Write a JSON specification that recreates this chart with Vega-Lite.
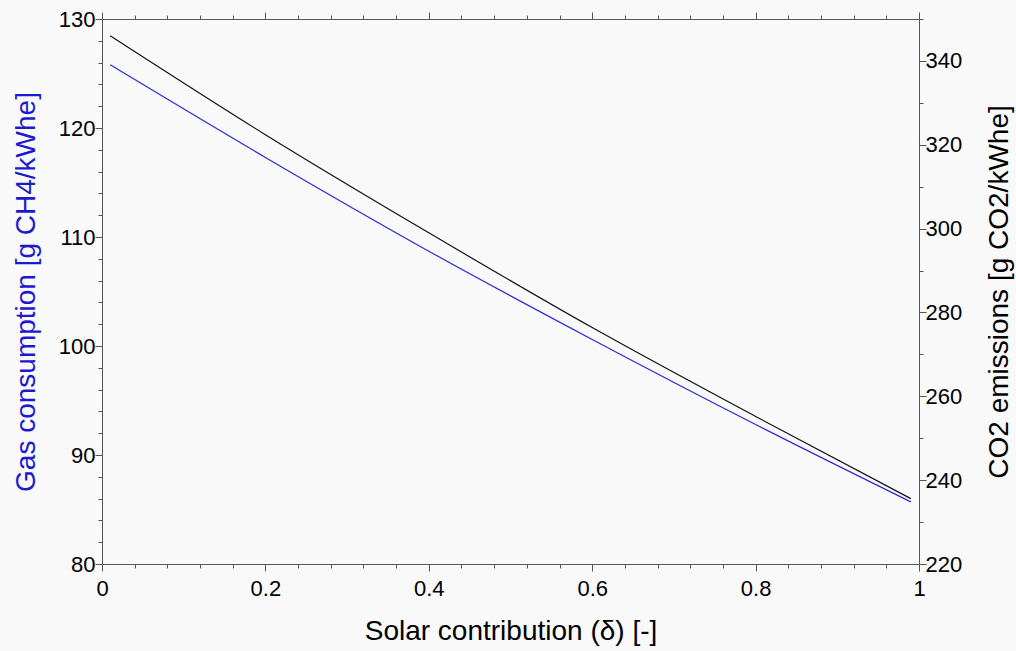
{
  "$schema": "https://vega.github.io/schema/vega-lite/v6.json",
  "width": 817,
  "height": 545,
  "autosize": {"type": "none"},
  "padding": {"left": 102, "top": 19, "right": 97, "bottom": 87},
  "background": "#f9f9f9",
  "config": {
    "view": {"stroke": null},
    "font": "Liberation Sans",
    "axis": {
      "domainColor": "#555555",
      "tickColor": "#555555",
      "domainWidth": 1,
      "tickWidth": 1,
      "grid": false,
      "labelFont": "Liberation Sans",
      "labelFontSize": 22,
      "labelColor": "#000000",
      "titleFont": "Liberation Sans",
      "titleFontSize": 28,
      "titleFontWeight": "normal",
      "labelOverlap": false,
      "labelFlush": false
    }
  },
  "data": {
    "values": [
      {"x": 0.01, "gas": 125.8, "co2": 346.0},
      {"x": 0.2, "gas": 117.3, "co2": 322.4},
      {"x": 0.4, "gas": 108.7, "co2": 299.0},
      {"x": 0.6, "gas": 100.6, "co2": 276.4},
      {"x": 0.8, "gas": 92.8, "co2": 255.2},
      {"x": 0.99, "gas": 85.7, "co2": 235.6}
    ]
  },
  "layer": [
    {
      "mark": {"type": "line", "color": "#2a2ad8", "strokeWidth": 1.2, "interpolate": "monotone"},
      "encoding": {
        "x": {
          "field": "x", "type": "quantitative",
          "scale": {"domain": [0, 1], "nice": false, "zero": false},
          "axis": {
            "orient": "bottom",
            "title": "Solar contribution (δ) [-]",
            "values": [0, 0.04, 0.08, 0.12, 0.16, 0.2, 0.24, 0.28, 0.32, 0.36, 0.4, 0.44, 0.48, 0.52, 0.56, 0.6, 0.64, 0.68, 0.72, 0.76, 0.8, 0.84, 0.88, 0.92, 0.96, 1],
            "format": "~g",
            "labelExpr": "abs(datum.value*5-round(datum.value*5))<0.001 ? datum.label : ''",
            "tickSize": {"condition": {"test": "abs(datum.value*5-round(datum.value*5))<0.001", "value": 7}, "value": 4},
            "labelPadding": 7,
            "titlePadding": 18
          }
        },
        "y": {
          "field": "gas", "type": "quantitative",
          "scale": {"domain": [80, 130], "nice": false, "zero": false},
          "axis": {
            "orient": "left",
            "title": "Gas consumption [g CH4/kWhe]",
            "titleColor": "#1a1ad0",
            "values": [80, 82, 84, 86, 88, 90, 92, 94, 96, 98, 100, 102, 104, 106, 108, 110, 112, 114, 116, 118, 120, 122, 124, 126, 128, 130],
            "labelExpr": "datum.value % 10 == 0 ? datum.label : ''",
            "tickSize": {"condition": {"test": "datum.value % 10 == 0", "value": 7}, "value": 4},
            "labelPadding": 0,
            "titlePadding": 18
          }
        }
      }
    },
    {
      "mark": {"type": "line", "color": "#111111", "strokeWidth": 1.2, "interpolate": "monotone"},
      "encoding": {
        "x": {
          "field": "x", "type": "quantitative",
          "scale": {"domain": [0, 1], "nice": false, "zero": false},
          "axis": {
            "orient": "top",
            "title": null,
            "labels": false,
            "values": [0, 0.04, 0.08, 0.12, 0.16, 0.2, 0.24, 0.28, 0.32, 0.36, 0.4, 0.44, 0.48, 0.52, 0.56, 0.6, 0.64, 0.68, 0.72, 0.76, 0.8, 0.84, 0.88, 0.92, 0.96, 1],
            "tickSize": {"condition": {"test": "abs(datum.value*5-round(datum.value*5))<0.001", "value": 7}, "value": 4}
          }
        },
        "y": {
          "field": "co2", "type": "quantitative",
          "scale": {"domain": [220, 350], "nice": false, "zero": false},
          "axis": {
            "orient": "right",
            "title": "CO2 emissions [g CO2/kWhe]",
            "titleColor": "#000000",
            "titleAngle": 270,
            "values": [220, 230, 240, 250, 260, 270, 280, 290, 300, 310, 320, 330, 340, 350],
            "labelExpr": "datum.value % 20 == 0 ? datum.label : ''",
            "tickSize": {"condition": {"test": "datum.value % 20 == 0", "value": 7}, "value": 4},
            "labelPadding": -1,
            "titlePadding": 52
          }
        }
      }
    }
  ],
  "resolve": {
    "scale": {"y": "independent"},
    "axis": {"x": "independent", "y": "independent"}
  }
}
